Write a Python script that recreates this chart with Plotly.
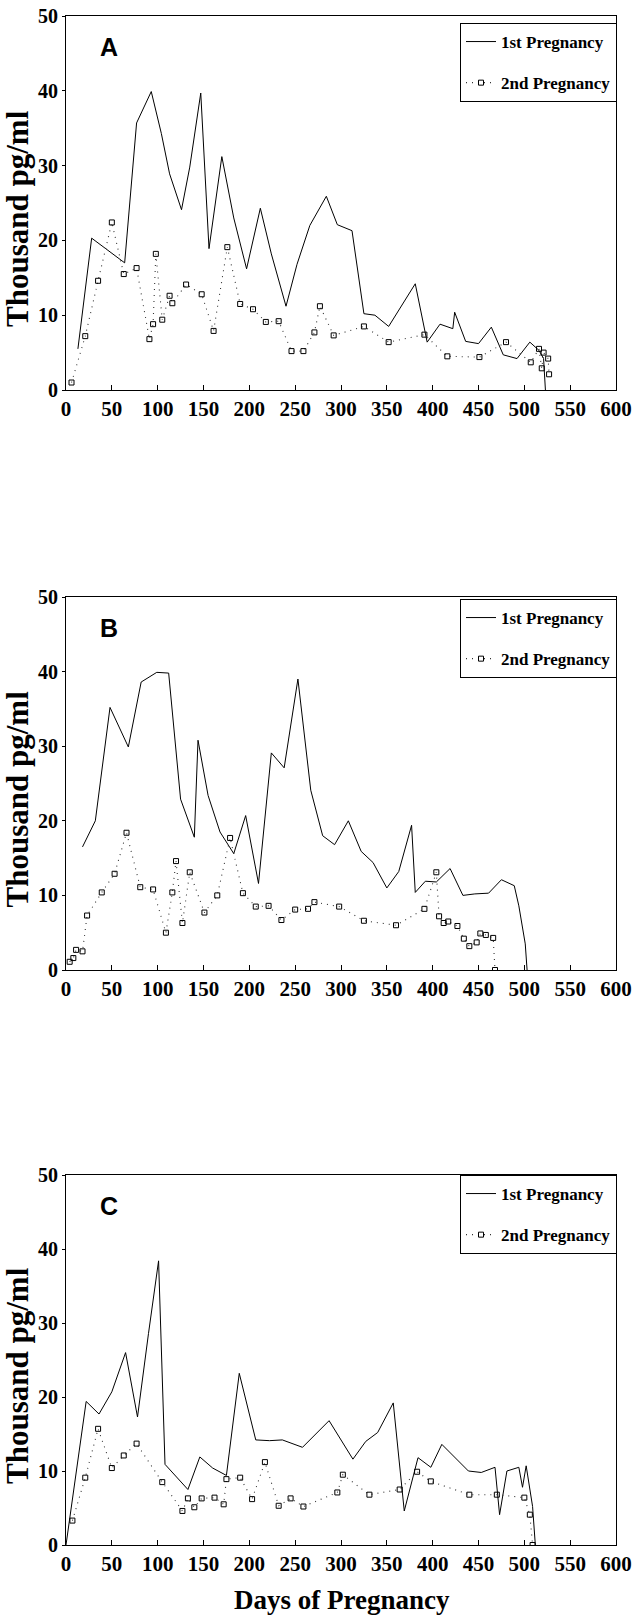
import plotly.graph_objects as go

# ---------------- data (days, thousand pg/ml) ----------------
a1_x = [13, 28, 64, 77, 93, 104, 113, 126, 135, 147, 156, 170, 183, 197, 212, 224, 240, 252, 266, 284,
        296, 312, 325, 337, 352, 381, 394, 408, 422, 424, 436, 450, 464, 477, 492, 506, 516, 521, 523]
a1_y = [5.5, 20.3, 17.0, 35.7, 39.9, 34.3, 28.9, 24.1, 29.8, 39.7, 18.9, 31.2, 23.0, 16.2, 24.3, 18.2, 11.2, 16.8, 22.0, 25.9,
        22.1, 21.3, 10.2, 10.0, 8.5, 14.2, 6.4, 8.8, 8.2, 10.4, 6.5, 6.2, 8.4, 4.7, 4.2, 6.4, 5.3, 4.2, 0.0]
a2_x = [6, 21, 35, 50, 63, 77, 91, 95, 98, 105, 113, 116, 131, 148, 161, 176, 190, 204, 218, 232, 246, 259,
        271, 277, 292, 325, 352, 391, 416, 451, 480, 507, 516, 519, 521, 526, 527]
a2_y = [1.0, 7.2, 14.6, 22.4, 15.5, 16.3, 6.8, 8.8, 18.2, 9.4, 12.6, 11.6, 14.1, 12.8, 7.9, 19.1, 11.5, 10.8, 9.1, 9.2, 5.2, 5.2,
        7.7, 11.2, 7.3, 8.5, 6.4, 7.4, 4.5, 4.4, 6.4, 3.7, 5.5, 2.9, 5.0, 4.2, 2.1]

b1_x = [18, 32, 48, 68, 82, 99, 112, 125, 140, 144, 155, 168, 183, 196, 210, 224, 238, 253, 267, 280,
        293, 308, 322, 335, 350, 363, 377, 381, 392, 404, 419, 433, 446, 461, 475, 489, 494, 501, 503]
b1_y = [16.5, 20.0, 35.2, 29.9, 38.6, 39.9, 39.8, 22.9, 17.8, 30.8, 23.4, 18.5, 15.6, 20.7, 11.6, 29.1, 27.1, 39.0, 24.1, 18.0,
        16.8, 20.0, 15.9, 14.4, 11.0, 13.2, 19.4, 10.4, 11.9, 11.8, 13.6, 10.0, 10.2, 10.3, 12.1, 11.3, 8.6, 3.5, 0.0]
b2_x = [4, 8, 11, 18, 23, 39, 53, 66, 81, 95, 109, 116, 120, 127, 135, 151, 165, 179, 193, 207, 221, 235,
        250, 264, 271, 298, 325, 360, 391, 404, 407, 412, 417, 427, 434, 440, 448, 452, 458, 466, 468]
b2_y = [1.1, 1.6, 2.7, 2.5, 7.3, 10.4, 12.9, 18.4, 11.1, 10.8, 5.0, 10.4, 14.6, 6.3, 13.1, 7.7, 10.0, 17.7, 10.3, 8.5, 8.6, 6.7,
        8.1, 8.2, 9.1, 8.5, 6.6, 6.0, 8.2, 13.1, 7.2, 6.3, 6.5, 5.9, 4.2, 3.2, 3.7, 4.9, 4.7, 4.3, 0.0]

c1_x = [0, 22, 36, 50, 65, 78, 90, 101, 108, 133, 146, 160, 175, 189, 207, 222, 236, 258, 287, 313,
        327, 340, 357, 369, 384, 398, 410, 439, 453, 468, 473, 481, 494, 498, 502, 509, 512]
c1_y = [0.0, 19.4, 17.7, 20.7, 26.0, 17.3, 28.6, 38.4, 10.9, 7.5, 11.9, 10.4, 9.4, 23.2, 14.2, 14.1, 14.2, 13.2, 16.8, 11.6,
        14.0, 15.2, 19.2, 4.6, 11.8, 10.5, 13.6, 10.0, 9.8, 10.5, 4.1, 10.0, 10.5, 7.8, 10.7, 5.2, 0.0]
c2_x = [7, 21, 35, 50, 63, 77, 105, 127, 133, 140, 148, 162, 172, 175, 190, 203, 217, 232, 245, 259,
        296, 302, 331, 364, 383, 398, 440, 470, 500, 506, 509]
c2_y = [3.3, 9.1, 15.7, 10.4, 12.1, 13.7, 8.5, 4.6, 6.3, 5.1, 6.3, 6.4, 5.5, 8.9, 9.1, 6.2, 11.2, 5.3, 6.3, 5.2,
        7.1, 9.5, 6.8, 7.5, 9.9, 8.6, 6.8, 6.8, 6.4, 4.1, 0.0]

panels = ["A", "B", "C"]
series_names = ["1st Pregnancy", "2nd Pregnancy"]
x_ticks = list(range(0, 601, 50))
y_ticks = list(range(0, 51, 10))
y_title = "Thousand pg/ml"
x_title = "Days of Pregnancy"

# ---------------- layout geometry (page pixels) ----------------
W, H = 635, 1617
px_x = (66, 616)
px_y = [(16, 390), (597, 970), (1175, 1545)]
leg_top = [23, 599, 1175]

SERIF = "Liberation Serif"
SANS = "Liberation Sans"

fig = go.Figure()
data = [(a1_x, a1_y, a2_x, a2_y), (b1_x, b1_y, b2_x, b2_y), (c1_x, c1_y, c2_x, c2_y)]

for i, (x1, y1, x2, y2) in enumerate(data):
    sfx = "" if i == 0 else str(i + 1)
    leg = "legend" + sfx
    fig.add_trace(go.Scatter(x=x1, y=y1, mode="lines", name=series_names[0],
                             line=dict(color="black", width=1),
                             xaxis="x" + sfx, yaxis="y" + sfx, legend=leg, legendgroup=f"g1{i}"))
    fig.add_trace(go.Scatter(x=x2, y=y2, mode="lines+markers", name=series_names[1],
                             line=dict(color="#333", width=1.1, dash="1px,5px"),
                             marker=dict(symbol="square-open", size=5, color="black", line=dict(width=1)),
                             xaxis="x" + sfx, yaxis="y" + sfx, legend=leg, legendgroup=f"g2{i}"))

layout = dict(width=W, height=H, margin=dict(l=0, r=0, t=0, b=0, pad=0, autoexpand=False),
              paper_bgcolor="white", plot_bgcolor="white", showlegend=True)

xtickfont = dict(family=SERIF, size=21, color="black", weight="bold")
ytickfont = dict(family=SERIF, size=20, color="black", weight="bold")
annotations = []
for i in range(3):
    sfx = "" if i == 0 else str(i + 1)
    top, bot = px_y[i]
    yd = [1 - bot / H, 1 - top / H]
    xd = [px_x[0] / W, px_x[1] / W]
    layout["xaxis" + sfx] = dict(domain=xd, range=[0, 600], tickvals=x_ticks, ticks="inside", ticklen=5,
                                 tickcolor="black", showline=True, linecolor="black", linewidth=1, mirror=True,
                                 showgrid=False, zeroline=False, tickfont=xtickfont, anchor="y" + sfx,
                                 fixedrange=True, automargin=False)
    layout["yaxis" + sfx] = dict(domain=yd, range=[0, 50], tickvals=y_ticks, ticks="outside", ticklen=3,
                                 tickcolor="black", showline=True, linecolor="black", linewidth=1, mirror=True,
                                 showgrid=False, zeroline=False, tickfont=ytickfont, anchor="x" + sfx,
                                 fixedrange=True, automargin=False)
    layout["legend" + sfx] = dict(x=617 / W, xanchor="right", y=1 - leg_top[i] / H, yanchor="top",
                                  bordercolor="black", borderwidth=1, bgcolor="white",
                                  font=dict(family=SERIF, size=17, color="black", weight="bold"),
                                  tracegroupgap=16, itemwidth=30)
    # panel letter
    annotations.append(dict(text=panels[i], xref="x" + sfx + " domain", yref="y" + sfx + " domain",
                            x=(109 - 66) / 550, y=1 - 31 / (bot - top),
                            xanchor="center", yanchor="middle", showarrow=False,
                            font=dict(family=SANS, size=25, color="black", weight="bold")))
    # y title
    annotations.append(dict(text=y_title, xref="paper", yref="paper", x=17 / W,
                            y=1 - ((top + bot) / 2 + 16) / H, textangle=-90,
                            xanchor="center", yanchor="middle", showarrow=False,
                            font=dict(family=SERIF, size=31, color="black", weight="bold")))

annotations.append(dict(text=x_title, xref="paper", yref="paper", x=342 / W, y=1 - 1600 / H,
                        xanchor="center", yanchor="middle", showarrow=False,
                        font=dict(family=SERIF, size=27, color="black", weight="bold")))
layout["annotations"] = annotations
fig.update_layout(**layout)
fig.write_html("out.html", config={"displayModeBar": False},
               post_script="document.body.style.margin='0px';document.body.style.overflow='hidden';")
